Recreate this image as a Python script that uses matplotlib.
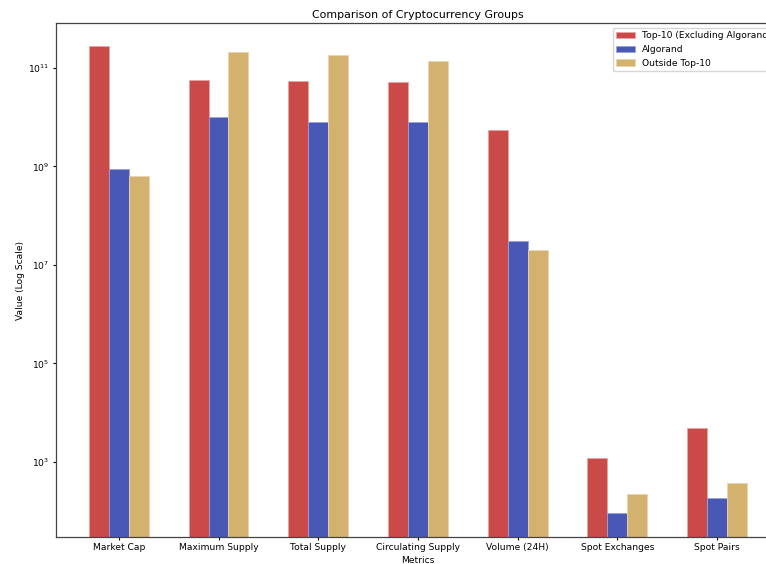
import numpy as np
import matplotlib.pyplot as plt

metrics = ["Market Cap", "Maximum Supply", "Total Supply", "Circulating Supply",
           "Volume (24H)", "Spot Exchanges", "Spot Pairs"]
top10 = [2.8e11, 5.7e10, 5.4e10, 5.2e10, 5.5e9, 1200, 4800]
algorand = [8.7e8, 1.0e10, 8.0e9, 8.0e9, 3.1e7, 91, 184]
outside = [6.3e8, 2.1e11, 1.8e11, 1.4e11, 2.0e7, 220, 370]

colors = ["#c94a49", "#4a58b5", "#d3b16e"]
edges = ["#e9a3a3", "#9aa3dc", "#ead6ae"]

# everything scaled down as if drawn on a larger canvas
s = 0.66
plt.rcParams.update({
    "font.size": 10 * s,
    "axes.titlesize": 12 * s,
    "axes.labelsize": 10 * s,
    "xtick.labelsize": 10 * s,
    "ytick.labelsize": 10 * s,
    "legend.fontsize": 10 * s,
    "xtick.major.size": 3.5 * s,
    "ytick.major.size": 3.5 * s,
    "xtick.major.pad": 3.5 * s,
    "ytick.major.pad": 3.5 * s,
    "axes.labelpad": 4 * s,
    "axes.titlepad": 6 * s,
    "axes.linewidth": 0.9,
    "axes.edgecolor": "#444444",
})

fig = plt.figure(figsize=(7.66, 5.64), dpi=100)
ax = fig.add_axes([0.0731, 0.0479, 0.945, 0.911])

x = np.arange(len(metrics))
w = 0.2
ax.bar(x - w, top10, w, color=colors[0], edgecolor=edges[0], linewidth=0.6,
       label="Top-10 (Excluding Algorand)")
ax.bar(x, algorand, w, color=colors[1], edgecolor=edges[1], linewidth=0.6,
       label="Algorand")
ax.bar(x + w, outside, w, color=colors[2], edgecolor=edges[2], linewidth=0.6,
       label="Outside Top-10")

ax.set_yscale("log")
ax.set_ylim(30, 8.1e11)
ax.set_xlim(-0.63, 6.63)
ax.set_xticks(x)
ax.set_xticklabels(metrics)
ax.yaxis.set_minor_locator(plt.NullLocator())
ax.set_xlabel("Metrics")
ax.set_ylabel("Value (Log Scale)")
ax.set_title("Comparison of Cryptocurrency Groups")
ax.legend(loc="upper right")

fig.savefig("out.png", dpi=100)
